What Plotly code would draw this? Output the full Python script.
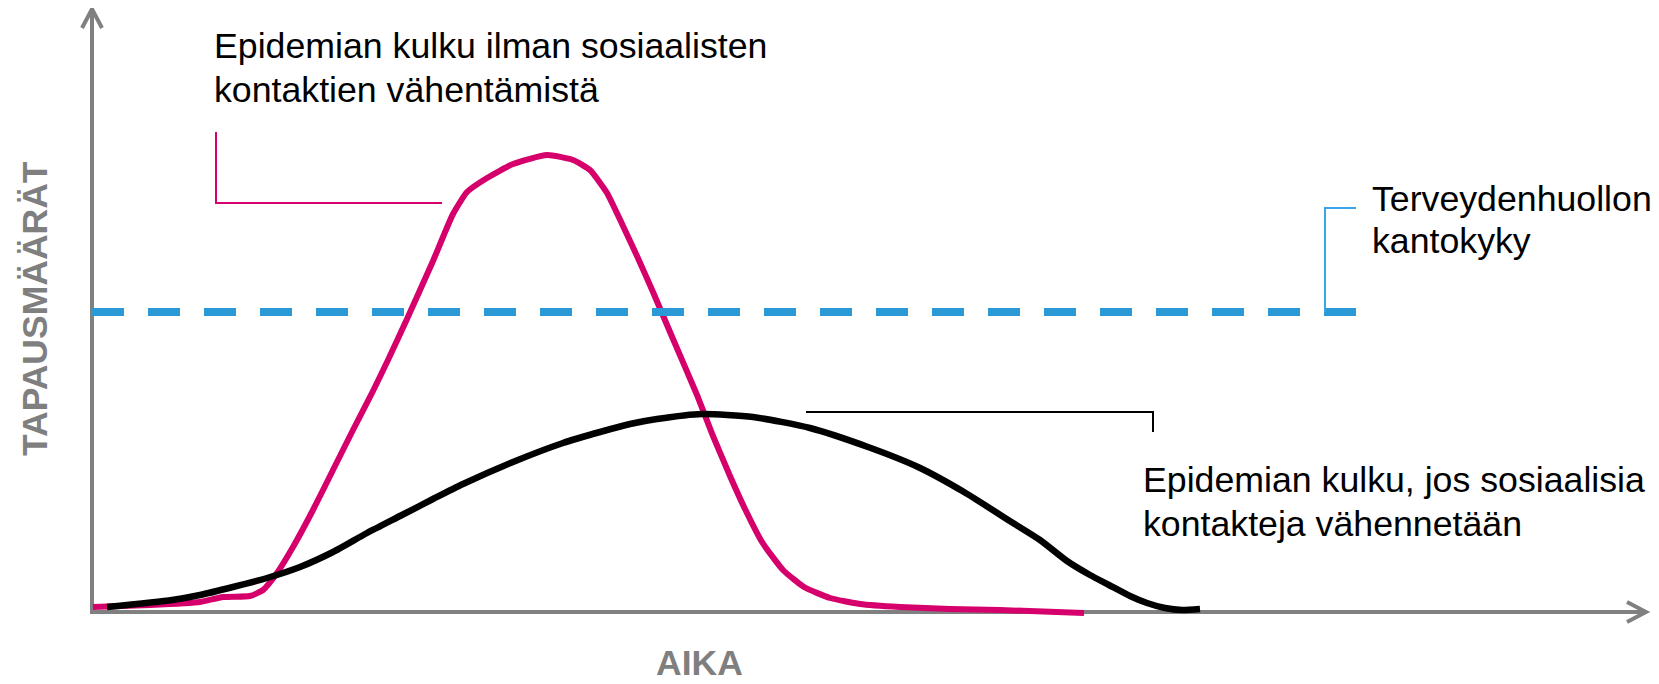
import plotly.graph_objects as go

# ---- data (arbitrary units: time vs. case counts) ----
pink_t = [0.1, 5.8, 10.8, 13.1, 15.8, 17.1, 18.5, 20.1, 22.1, 24.1, 26.1, 28.1, 29.6, 31.5,
          34.1, 35.1, 36.1, 37.5, 39.5, 42.1, 45.5, 48.1, 49.8, 51.5, 53.1, 54.5, 56.1,
          58.1, 60.5, 62.1, 63.8, 65.3, 67.0, 69.1, 71.2, 73.8, 76.8, 80.8, 85.8, 90.8, 99.2]
pink_v = [0.4, 0.6, 0.9, 1.4, 1.5, 2.1, 3.8, 6.4, 10.1, 14.1, 18.1, 22.0, 25.1, 29.2,
          35.0, 37.4, 39.7, 41.9, 43.3, 44.7, 45.6, 45.1, 44.1, 41.8, 38.5, 35.5, 31.9,
          27.2, 21.6, 17.5, 13.5, 10.2, 6.9, 4.1, 2.4, 1.3, 0.7, 0.4, 0.2, 0.1, -0.2]

black_t = [1.5, 8.0, 10.8, 14.1, 17.5, 20.8, 24.1, 27.5, 30.8, 34.1, 37.1, 42.1, 47.1,
           50.8, 53.8, 56.5, 61.0, 66.1, 71.8, 77.6, 82.6, 87.2, 92.1, 94.8, 97.5, 99.8,
           101.7, 103.8, 105.5, 107.3, 109.0, 110.8]
black_v = [0.4, 1.1, 1.6, 2.4, 3.3, 4.4, 5.9, 7.8, 9.5, 11.2, 12.7, 14.9, 16.8,
           17.9, 18.7, 19.2, 19.7, 19.4, 18.3, 16.4, 14.4, 11.9, 8.8, 7.1, 5.0, 3.6,
           2.6, 1.5, 0.8, 0.3, 0.1, 0.2]

capacity_t = [0.0, 126.5]
capacity_v = [29.9, 29.9]

label_no_measures = ["Epidemian kulku ilman sosiaalisten", "kontaktien vähentämistä"]
label_capacity = ["Terveydenhuollon", "kantokyky"]
label_measures = ["Epidemian kulku, jos sosiaalisia", "kontakteja vähennetään"]
y_title = "TAPAUSMÄÄRÄT"
x_title = "AIKA"

PINK = "#d5006b"
BLACK = "#000000"
BLUE = "#2a9ad7"
BLUE_THIN = "#3aa5e6"
GREY = "#808080"
FONT = "Arial, Liberation Sans, sans-serif"

fig = go.Figure()
fig.add_trace(go.Scatter(x=pink_t, y=pink_v, mode="lines",
                         line=dict(color=PINK, width=6, shape="spline", smoothing=0.5),
                         hoverinfo="skip"))
fig.add_trace(go.Scatter(x=black_t, y=black_v, mode="lines",
                         line=dict(color=BLACK, width=6.5, shape="spline", smoothing=0.6),
                         hoverinfo="skip"))
fig.add_trace(go.Scatter(x=capacity_t, y=capacity_v, mode="lines",
                         line=dict(color=BLUE, width=8, dash="32px,24px"),
                         hoverinfo="skip"))

# axes with open arrow heads
ax_top = 60.2
ax_right = 155.4
axis_style = dict(color=GREY, width=4)
shapes = [
    dict(type="line", x0=0, x1=0, y0=-0.3, y1=ax_top, line=axis_style, layer="below"),
    dict(type="line", x0=-0.2, x1=ax_right, y0=-0.1, y1=-0.1, line=axis_style, layer="below"),
    dict(type="path", path=f"M -1.0,{ax_top-1.9} L 0,{ax_top} L 1.0,{ax_top-1.9}",
         line=axis_style, layer="below"),
    dict(type="path", path=f"M {ax_right-1.9},0.9 L {ax_right},-0.1 L {ax_right-1.9},-1.1",
         line=axis_style, layer="below"),
    # label leaders
    dict(type="path", path="M 12.4,47.9 L 12.4,40.8 L 35.0,40.8",
         line=dict(color=PINK, width=2)),
    dict(type="path", path="M 123.3,29.9 L 123.3,40.3 L 126.4,40.3",
         line=dict(color=BLUE_THIN, width=2)),
    dict(type="path", path="M 71.4,19.9 L 106.1,19.9 L 106.1,17.9",
         line=dict(color=BLACK, width=2)),
]

annots = []
def txt(s, x, y, size=35.7, color="#000000", bold=False, xanchor="left", angle=0):
    annots.append(dict(text=f"<b>{s}</b>" if bold else s, x=x, y=y, xref="x", yref="y",
                       showarrow=False, xanchor=xanchor, yanchor="middle", textangle=angle,
                       font=dict(family=FONT, size=size, color=color)))

txt(label_no_measures[0], 12.0, 56.5)
txt(label_no_measures[1], 12.0, 52.1)
txt(label_capacity[0], 127.8, 41.25)
txt(label_capacity[1], 127.8, 37.05)
txt(label_measures[0], 104.9, 13.15)
txt(label_measures[1], 104.9, 8.7)
txt(y_title, -5.7, 30.2, size=35.5, color="#7f7f7f", bold=True, xanchor="center", angle=-90)
txt(x_title, 60.7, -5.2, size=35.5, color="#7f7f7f", bold=True, xanchor="center")

# the page body adds an 8px margin, so the figure is 8px smaller than the window
fig.update_layout(
    width=1651, height=676, autosize=False,
    margin=dict(l=0, r=0, t=0, b=0),
    paper_bgcolor="white", plot_bgcolor="white",
    showlegend=False,
    xaxis=dict(range=[-8.4, 156.7], visible=False, fixedrange=True),
    yaxis=dict(range=[-7.3, 60.3], visible=False, fixedrange=True),
    shapes=shapes, annotations=annots,
)

fig.write_html("out.html")
